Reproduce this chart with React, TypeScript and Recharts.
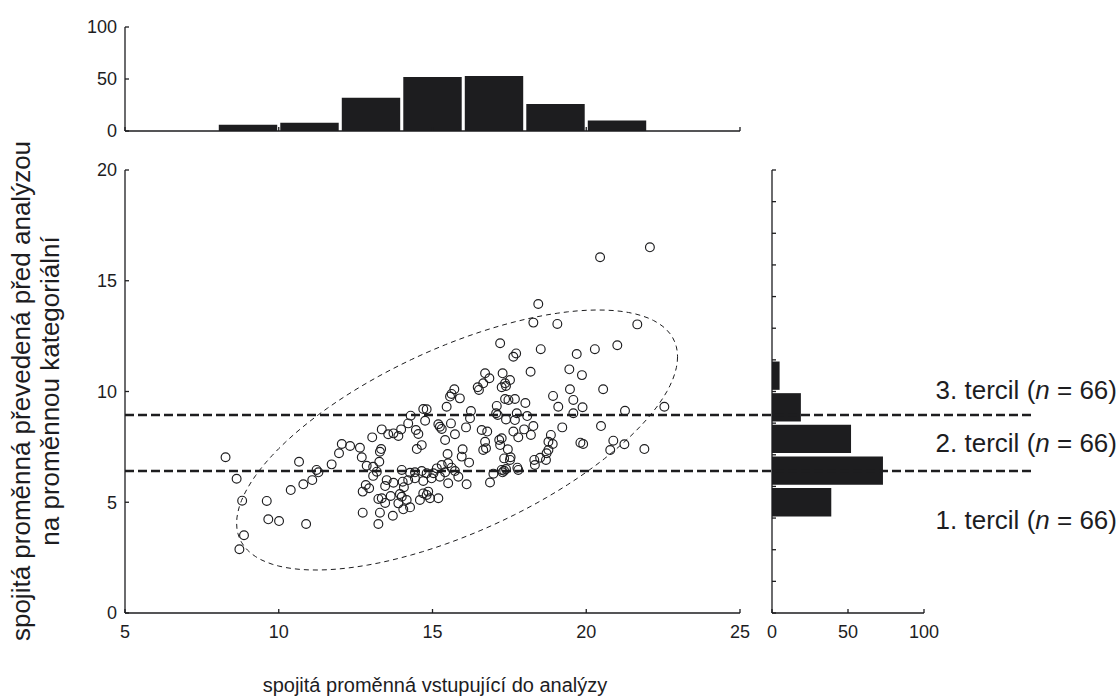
import React from 'react';
import { ScatterChart, Scatter, XAxis, YAxis, ReferenceLine, ReferenceArea, ComposedChart } from 'recharts';

const FONT = '"Liberation Sans", Arial, Helvetica, sans-serif';
const INK = '#1d1d1f';

// ---- data ----
const scatterPoints: [number, number][] = [
  [8.27, 7.03], [8.63, 6.06], [8.81, 5.07], [8.87, 3.51], [8.72, 2.88], [9.61, 5.06], [9.66, 4.23], [10.01, 4.15],
  [10.89, 4.02], [10.66, 6.83], [10.39, 5.55], [10.8, 5.81], [11.09, 6.0], [11.23, 6.46], [11.29, 6.35], [11.72, 6.71],
  [11.96, 7.21], [12.05, 7.63], [12.32, 7.54], [12.64, 7.46], [12.7, 7.03], [13.04, 7.93], [13.35, 8.29], [13.56, 8.07],
  [13.73, 8.11], [13.89, 7.99], [13.98, 8.29], [14.21, 8.56], [14.29, 8.91], [13.29, 7.28], [13.33, 7.4], [13.27, 6.83],
  [12.86, 6.65], [13.07, 6.6], [13.19, 6.38], [13.07, 6.19], [14.0, 6.46], [14.27, 6.33], [13.51, 6.0], [13.73, 5.88],
  [13.46, 5.73], [12.83, 5.78], [12.94, 5.63], [12.73, 5.48], [13.64, 5.28], [13.35, 5.18], [13.24, 5.15], [13.46, 4.97],
  [14.03, 5.93], [14.07, 5.68], [13.94, 5.37], [14.0, 5.25], [13.89, 4.95], [14.16, 5.1], [14.05, 4.68], [14.27, 4.77],
  [12.73, 4.53], [13.29, 4.53], [13.24, 4.02], [13.71, 4.39], [14.7, 9.21], [14.81, 9.2], [15.46, 9.31], [15.57, 9.77],
  [15.89, 9.69], [14.76, 8.68], [14.46, 8.26], [14.54, 8.08], [15.19, 8.52], [15.24, 8.41], [15.3, 8.31], [15.6, 8.56],
  [15.73, 8.07], [15.41, 7.81], [14.65, 7.58], [14.49, 7.4], [15.49, 7.18], [15.98, 7.39], [15.95, 7.06], [16.19, 6.79],
  [16.25, 9.12], [16.22, 8.79], [16.09, 8.38], [16.6, 8.26], [16.65, 7.36], [15.51, 6.76], [15.3, 6.68], [15.14, 6.53],
  [15.62, 6.56], [15.73, 6.41], [15.84, 6.15], [14.43, 6.35], [14.65, 6.41], [14.81, 6.31], [15.03, 6.31], [15.41, 6.35],
  [14.21, 6.0], [14.43, 6.08], [14.7, 5.96], [14.97, 6.08], [15.24, 6.15], [15.51, 5.86], [16.11, 5.81], [14.7, 5.4],
  [14.81, 5.33], [14.86, 5.48], [14.92, 5.18], [14.59, 5.1], [15.19, 5.18], [15.71, 10.1], [15.62, 9.89], [16.47, 10.19],
  [16.51, 10.07], [16.71, 10.82], [16.65, 10.37], [17.09, 9.35], [17.07, 9.02], [17.12, 8.94], [17.36, 9.66], [17.47, 9.62],
  [17.68, 9.66], [18.02, 9.48], [17.74, 9.02], [18.08, 8.89], [17.68, 8.71], [17.39, 8.74], [18.28, 8.44], [17.98, 8.29],
  [17.63, 8.19], [18.2, 8.04], [17.79, 7.93], [16.78, 8.19], [16.71, 7.73], [16.74, 7.44], [17.17, 7.81], [17.2, 7.58],
  [17.25, 7.89], [17.45, 7.39], [17.33, 6.98], [17.52, 6.91], [17.54, 7.03], [17.25, 6.46], [17.33, 6.42], [17.39, 6.5],
  [17.28, 6.35], [16.98, 6.29], [17.76, 6.56], [17.79, 6.46], [16.87, 5.89], [18.31, 6.91], [18.33, 6.68], [18.69, 6.91],
  [18.77, 7.36], [18.91, 7.63], [18.85, 8.04], [19.22, 8.38], [19.09, 9.31], [18.92, 9.8], [18.5, 7.01], [18.71, 7.21],
  [18.77, 7.73], [18.44, 13.95], [18.28, 13.11], [19.06, 13.05], [17.2, 12.18], [17.63, 11.57], [17.72, 11.72], [18.52, 11.91],
  [18.19, 10.89], [16.85, 10.6], [17.28, 10.82], [17.25, 10.19], [17.39, 10.25], [17.52, 10.52], [17.36, 10.37], [22.07, 16.51],
  [20.45, 16.06], [21.66, 13.03], [20.28, 11.91], [21.01, 12.09], [19.69, 11.69], [19.45, 11.0], [19.86, 10.74], [20.55, 10.1],
  [19.47, 10.1], [19.58, 9.62], [19.88, 9.29], [21.26, 9.13], [22.54, 9.31], [19.58, 9.02], [20.48, 8.44], [19.81, 7.69],
  [19.9, 7.63], [20.88, 7.78], [20.78, 7.36], [21.24, 7.62], [21.89, 7.4],
];

// top histogram (x variable), bins of width 2
const xBinStarts = [8, 10, 12, 14, 16, 18, 20];
const xBinWidth = 2;
const xBinCounts = [6, 8, 32, 52, 53, 26, 10];

// right histogram (y variable), 14 bins over 0–20
const yBinCountTotal = 14;
const yBinCounts = [0, 0, 0, 39, 73, 52, 19, 5, 0, 0, 0, 0, 0, 0];

// tercile cut-offs
const tercileCuts = [6.41, 8.94];
const tercileLabels = ['3. tercil', '2. tercil', '1. tercil'];
const tercileN = [66, 66, 66];
const tercileLabelY = [10.07, 7.67, 4.18];

// confidence ellipse parameters (data units)
const ellipse = { cx: 15.8, cy: 7.81, rx: 7.17, ry: 5.87, phase: 0.876 };

// axis ticks
const mainXTicks = [5, 10, 15, 20, 25];
const mainYTicks = [0, 5, 10, 15, 20];
const topYTicks = [0, 50, 100];
const rightXTicks = [0, 50, 100];

// ---- derived ----
const scatterData = scatterPoints.map(([x, y]) => ({ x, y }));
const ellipseData = Array.from({ length: 121 }, (_, i) => {
  const t = (i / 120) * Math.PI * 2;
  return { x: ellipse.cx + ellipse.rx * Math.cos(t), y: ellipse.cy + ellipse.ry * Math.cos(t + ellipse.phase) };
});
const yBinWidth = 20 / yBinCountTotal;
const rightYTicks = Array.from({ length: yBinCountTotal + 1 }, (_, i) => (i * 20) / yBinCountTotal);

const W = 1120;
const H = 698;
const PLOT_LEFT = 125;
const PLOT_RIGHT = 740;
const PLOT_TOP = 170;
const PLOT_BOTTOM = 613;
const RIGHT_LEFT = 772;
const RIGHT_RIGHT = 924;
const LINE_END_X = 34.5;

const TICK_LEN = 4;
const X_MARGIN = 12;
const Y_MARGIN = 8;
const axisLineStyle = { stroke: INK, strokeWidth: 1.3 };

const abs = (extra: React.CSSProperties = {}): React.CSSProperties => ({ position: 'absolute', left: 0, top: 0, ...extra });

// inward ticks (drawn by custom tick renderers)
const bottomTick = (label: boolean) => (p: any) => (
  <g>
    <line x1={p.x} x2={p.x} y1={p.y - X_MARGIN} y2={p.y - X_MARGIN - TICK_LEN} stroke={INK} strokeWidth={1.3} />
    {label ? (
      <text x={p.x} y={p.y} dy="0.71em" textAnchor="middle" fill={INK} fontSize={18} fontFamily={FONT}>
        {p.payload.value}
      </text>
    ) : null}
  </g>
);
const leftTick = (label: boolean) => (p: any) => (
  <g>
    <line x1={p.x + Y_MARGIN} x2={p.x + Y_MARGIN + TICK_LEN} y1={p.y} y2={p.y} stroke={INK} strokeWidth={1.3} />
    {label ? (
      <text x={p.x} y={p.y} dy="0.35em" textAnchor="end" fill={INK} fontSize={18} fontFamily={FONT}>
        {p.payload.value}
      </text>
    ) : null}
  </g>
);

const Circle = (p: any) => (
  <circle cx={p.cx} cy={p.cy} r={4.4} fill="none" stroke={INK} strokeWidth={1.15} />
);
const Nothing = () => <g />;

export default function App() {
  const yAxisW = 60;
  const xAxisH = 30;
  return (
    <div style={abs({ width: W, height: H, background: '#fff', fontFamily: FONT, overflow: 'hidden' })}>
      {/* top histogram */}
      <div style={abs()}>
        <ComposedChart
          width={W}
          height={160}
          data={xBinCounts.map((c, i) => ({ x: xBinStarts[i] + xBinWidth / 2, y: c }))}
          margin={{ top: 27, right: W - PLOT_RIGHT, bottom: 160 - 131 - 30, left: PLOT_LEFT - yAxisW }}
        >
          <XAxis
            type="number"
            dataKey="x"
            domain={[5, 25]}
            ticks={mainXTicks}
            interval={0}
            allowDataOverflow
            height={30}
            tickSize={0}
            tickMargin={X_MARGIN}
            axisLine={axisLineStyle}
            tickLine={false}
            tick={bottomTick(false)}
          />
          <YAxis
            type="number"
            domain={[0, 100]}
            ticks={topYTicks}
            interval={0}
            allowDataOverflow
            width={yAxisW}
            tickSize={0}
            tickMargin={Y_MARGIN}
            axisLine={axisLineStyle}
            tickLine={false}
            tick={leftTick(true)}
          />
          {xBinCounts.map((c, i) => (
            <ReferenceArea
              key={i}
              x1={xBinStarts[i] + 0.05}
              x2={xBinStarts[i] + xBinWidth - 0.05}
              y1={0}
              y2={c}
              fill={INK}
              fillOpacity={1}
              stroke="none"
            />
          ))}
        </ComposedChart>
      </div>

      {/* right histogram */}
      <div style={abs()}>
        <ComposedChart
          width={W}
          height={H}
          data={yBinCounts.map((c, i) => ({ x: c, y: (i + 0.5) * yBinWidth }))}
          margin={{ top: PLOT_TOP, right: W - RIGHT_RIGHT, bottom: H - PLOT_BOTTOM - xAxisH, left: RIGHT_LEFT - yAxisW }}
        >
          <XAxis
            type="number"
            dataKey="x"
            domain={[0, 100]}
            ticks={rightXTicks}
            interval={0}
            allowDataOverflow
            height={xAxisH}
            tickSize={0}
            tickMargin={X_MARGIN}
            axisLine={axisLineStyle}
            tickLine={false}
            tick={bottomTick(true)}
          />
          <YAxis
            type="number"
            dataKey="y"
            domain={[0, 20]}
            ticks={rightYTicks}
            interval={0}
            allowDataOverflow
            width={yAxisW}
            tickSize={0}
            tickMargin={Y_MARGIN}
            axisLine={axisLineStyle}
            tickLine={false}
            tick={leftTick(false)}
          />
          {yBinCounts.map((c, i) =>
            c > 0 ? (
              <ReferenceArea
                key={i}
                x1={0}
                x2={c}
                y1={i * yBinWidth + 0.075}
                y2={(i + 1) * yBinWidth - 0.075}
                fill={INK}
                fillOpacity={1}
                stroke="none"
              />
            ) : null
          )}
        </ComposedChart>
      </div>

      {/* main scatter */}
      <div style={abs()}>
        <ScatterChart
          width={W}
          height={H}
          margin={{ top: PLOT_TOP, right: W - PLOT_RIGHT, bottom: H - PLOT_BOTTOM - xAxisH, left: PLOT_LEFT - yAxisW }}
        >
          <XAxis
            type="number"
            dataKey="x"
            domain={[5, 25]}
            ticks={mainXTicks}
            interval={0}
            allowDataOverflow
            height={xAxisH}
            tickSize={0}
            tickMargin={X_MARGIN}
            axisLine={axisLineStyle}
            tickLine={false}
            tick={bottomTick(true)}
          />
          <YAxis
            type="number"
            dataKey="y"
            domain={[0, 20]}
            ticks={mainYTicks}
            interval={0}
            allowDataOverflow
            width={yAxisW}
            tickSize={0}
            tickMargin={Y_MARGIN}
            axisLine={axisLineStyle}
            tickLine={false}
            tick={leftTick(true)}
          />
          {tercileCuts.map((c) => (
            <ReferenceLine
              key={c}
              segment={[{ x: 5, y: c }, { x: LINE_END_X, y: c }]}
              stroke={INK}
              strokeWidth={2.6}
              strokeDasharray="9 4"
              ifOverflow="visible"
            />
          ))}
          <Scatter
            data={ellipseData}
            line={{ stroke: INK, strokeWidth: 1, strokeDasharray: '5 4' }}
            lineType="joint"
            shape={Nothing}
            isAnimationActive={false}
          />
          <Scatter data={scatterData} shape={Circle} isAnimationActive={false} />
        </ScatterChart>
      </div>

      {/* tercile labels */}
      {tercileLabels.map((lab, i) => (
        <div
          key={lab}
          style={{
            position: 'absolute',
            right: W - 1117,
            top: PLOT_BOTTOM - tercileLabelY[i] * ((PLOT_BOTTOM - PLOT_TOP) / 20) - 15,
            fontSize: 26,
            lineHeight: '30px',
            color: INK,
            whiteSpace: 'nowrap',
          }}
        >
          {lab} (<i>n</i> = {tercileN[i]})
        </div>
      ))}

      {/* axis titles */}
      <div
        style={{
          position: 'absolute',
          left: 435 - 300,
          width: 600,
          top: 673,
          textAlign: 'center',
          fontSize: 20,
          lineHeight: '24px',
          color: INK,
          whiteSpace: 'nowrap',
        }}
      >
        spojitá proměnná vstupující do analýzy
      </div>
      <div
        style={{
          position: 'absolute',
          left: 36 - 320,
          top: 391 - 29,
          width: 640,
          height: 58,
          transform: 'rotate(-90deg)',
          textAlign: 'center',
          fontSize: 26,
          lineHeight: '29px',
          color: INK,
          whiteSpace: 'nowrap',
        }}
      >
        spojitá proměnná převedená před analýzou
        <br />
        na proměnnou kategoriální
      </div>
    </div>
  );
}
